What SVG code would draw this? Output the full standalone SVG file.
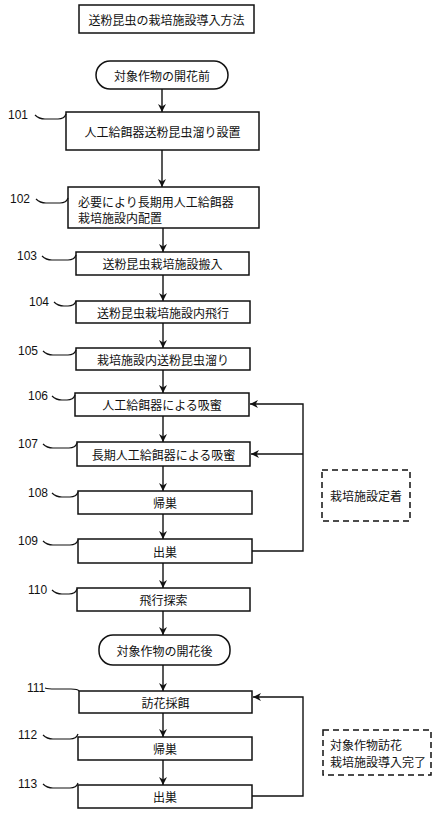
<svg xmlns="http://www.w3.org/2000/svg" width="440" height="817" viewBox="0 0 440 817">
<style>
.b{fill:#fff;stroke:#111;stroke-width:1.5}
.d{fill:#fff;stroke:#111;stroke-width:1.5;stroke-dasharray:6,4}
.t{font-family:"Noto Sans CJK JP","Noto Sans CJK SC",sans-serif;font-size:12px;fill:#111;dominant-baseline:central}
.c{text-anchor:middle}
.n{font-family:"Liberation Sans",Arial,sans-serif;font-size:12px;fill:#111;dominant-baseline:central}
.l{fill:none;stroke:#111;stroke-width:1.2}
.a{fill:none;stroke:#111;stroke-width:1.4}
</style>
<defs>
<marker id="ah" viewBox="0 0 10 10" refX="10" refY="5" markerWidth="8" markerHeight="8" markerUnits="userSpaceOnUse" orient="auto">
<path d="M0,0 L10,5 L0,10 L3,5 Z" fill="#111"/>
</marker>
</defs>
<rect width="440" height="817" fill="#fff"/>
<g id="title"><rect class="b" x="79" y="5" width="175" height="28"/><text class="t c" x="166.5" y="19.5">送粉昆虫の栽培施設導入方法</text></g>
<g id="start"><rect class="b" x="96" y="61" width="132" height="28" rx="14"/><text class="t c" x="162" y="75">対象作物の開花前</text></g>
<g id="n101"><rect class="b" x="66" y="112" width="193" height="38"/><text class="t c" x="162.5" y="131">人工給餌器送粉昆虫溜り設置</text><text class="n" x="8" y="115">101</text></g>
<g id="n102"><rect class="b" x="68" y="187" width="191" height="41"/><text class="t" x="78" y="201">必要により長期用人工給餌器</text><text class="t" x="78" y="217">栽培施設内配置</text><text class="n" x="10" y="199">102</text></g>
<g id="n103"><rect class="b" x="76" y="252" width="173" height="23"/><text class="t c" x="162.5" y="263.5">送粉昆虫栽培施設搬入</text><text class="n" x="17" y="256">103</text></g>
<g id="n104"><rect class="b" x="76" y="301" width="174" height="22"/><text class="t c" x="163" y="312">送粉昆虫栽培施設内飛行</text><text class="n" x="29" y="302">104</text></g>
<g id="n105"><rect class="b" x="76" y="348" width="174" height="22"/><text class="t c" x="163" y="359">栽培施設内送粉昆虫溜り</text><text class="n" x="18" y="351">105</text></g>
<g id="n106"><rect class="b" x="75" y="393" width="174" height="23"/><text class="t c" x="162" y="404.5">人工給餌器による吸蜜</text><text class="n" x="28" y="396">106</text></g>
<g id="n107"><rect class="b" x="77" y="442" width="173" height="24"/><text class="t c" x="163.5" y="454">長期人工給餌器による吸蜜</text><text class="n" x="18" y="444">107</text></g>
<g id="n108"><rect class="b" x="78" y="491" width="174" height="23"/><text class="t c" x="165" y="502.5">帰巣</text><text class="n" x="28" y="493">108</text></g>
<g id="n109"><rect class="b" x="78" y="539" width="174" height="24"/><text class="t c" x="165" y="551">出巣</text><text class="n" x="18" y="541">109</text></g>
<g id="n110"><rect class="b" x="77" y="588" width="173" height="23"/><text class="t c" x="163.5" y="599.5">飛行探索</text><text class="n" x="28" y="590">110</text></g>
<g id="end"><rect class="b" x="99" y="635" width="131" height="30" rx="14"/><text class="t c" x="164.5" y="650">対象作物の開花後</text></g>
<g id="n111"><rect class="b" x="79" y="691" width="173" height="22"/><text class="t c" x="165.5" y="702">訪花採餌</text><text class="n" x="27" y="688">111</text></g>
<g id="n112"><rect class="b" x="78" y="737" width="174" height="23"/><text class="t c" x="165" y="748.5">帰巣</text><text class="n" x="18" y="735">112</text></g>
<g id="n113"><rect class="b" x="78" y="785" width="174" height="23"/><text class="t c" x="165" y="796.5">出巣</text><text class="n" x="18" y="784">113</text></g>
<g id="note1"><rect class="d" x="322" y="470" width="88" height="51"/><text class="t c" x="366" y="495.5">栽培施設定着</text></g>
<g id="note2"><rect class="d" x="323" y="730" width="108" height="45"/><text class="t" x="330" y="744">対象作物訪花</text><text class="t" x="330" y="761">栽培施設導入完了</text></g>
<g id="leaders">
<path class="l" d="M35,115 c3,3 6,4 10,4 L58,119 c4,0 7,-2 8,-5"/>
<path class="l" d="M36,199 c3,3 6,4 10,4 L60,203 c4,0 7,-2 8,-5"/>
<path class="l" d="M42,256 c3,3 6,4 10,4 L68,260 c4,0 7,-2 8,-5"/>
<path class="l" d="M54,302 c3,3 6,4 10,4 L68,306 c4,0 7,-2 8,-5"/>
<path class="l" d="M43,351 c3,3 6,4 10,4 L68,355 c4,0 7,-2 8,-5"/>
<path class="l" d="M52,396 c3,3 6,4 10,4 L67,400 c4,0 7,-2 8,-5"/>
<path class="l" d="M43,444 c3,3 6,4 10,4 L69,448 c4,0 7,-2 8,-5"/>
<path class="l" d="M52,493 c3,3 6,4 10,4 L70,497 c4,0 7,-2 8,-5"/>
<path class="l" d="M43,541 c3,3 6,4 10,4 L70,545 c4,0 7,-2 8,-5"/>
<path class="l" d="M52,590 c3,3 6,4 10,4 L69,594 c4,0 7,-2 8,-5"/>
<path class="l" d="M45,688 c3,1 5,1 10,1 L71,689 c4,0 7,0 8,2"/>
<path class="l" d="M43,735 c3,3 6,4 10,4 L70,739 c4,0 7,-2 8,-5"/>
<path class="l" d="M43,784 c3,3 6,4 10,4 L70,788 c4,0 7,-2 8,-5"/>
</g>
<g id="connectors">
<line class="a" x1="162" y1="89" x2="162" y2="112" marker-end="url(#ah)"/>
<line class="a" x1="162" y1="150" x2="162" y2="187" marker-end="url(#ah)"/>
<line class="a" x1="163" y1="228" x2="163" y2="252" marker-end="url(#ah)"/>
<line class="a" x1="163" y1="275" x2="163" y2="301" marker-end="url(#ah)"/>
<line class="a" x1="163" y1="323" x2="163" y2="348" marker-end="url(#ah)"/>
<line class="a" x1="163" y1="370" x2="163" y2="393" marker-end="url(#ah)"/>
<line class="a" x1="163" y1="416" x2="163" y2="442" marker-end="url(#ah)"/>
<line class="a" x1="163" y1="466" x2="163" y2="491" marker-end="url(#ah)"/>
<line class="a" x1="163" y1="514" x2="163" y2="539" marker-end="url(#ah)"/>
<line class="a" x1="163" y1="563" x2="163" y2="588" marker-end="url(#ah)"/>
<line class="a" x1="163" y1="611" x2="163" y2="635" marker-end="url(#ah)"/>
<line class="a" x1="163" y1="665" x2="163" y2="691" marker-end="url(#ah)"/>
<line class="a" x1="163" y1="713" x2="163" y2="737" marker-end="url(#ah)"/>
<line class="a" x1="163" y1="760" x2="163" y2="785" marker-end="url(#ah)"/>
<path class="a" d="M252,551 L303,551 L303,404 L250,404" marker-end="url(#ah)"/>
<line class="a" x1="303" y1="454" x2="251" y2="454" marker-end="url(#ah)"/>
<path class="a" d="M252,796 L303,796 L303,697 L253,697" marker-end="url(#ah)"/>
</g>
</svg>
